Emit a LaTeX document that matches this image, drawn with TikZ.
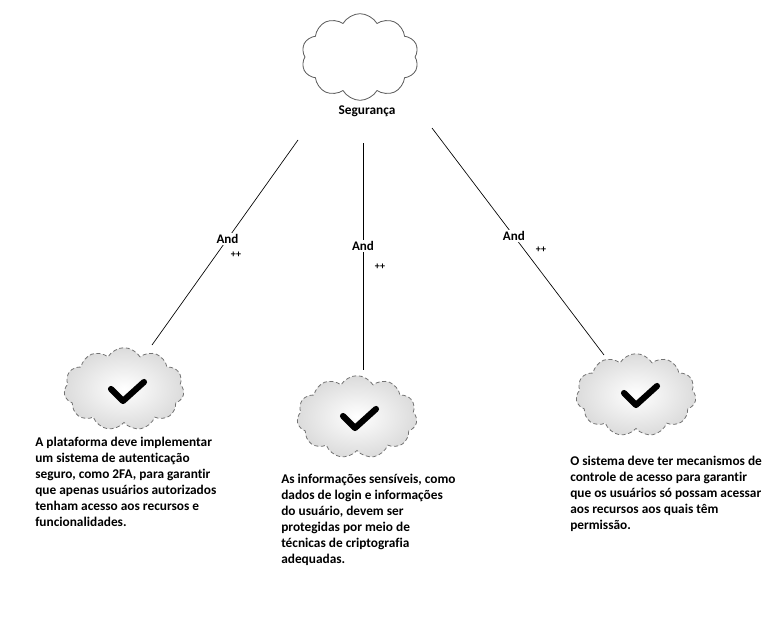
\documentclass[tikz,border=0pt]{standalone}
\usepackage{fontspec}
\setmainfont[Ligatures=NoCommon]{Carlito}
\usetikzlibrary{shapes.symbols}
\begin{document}
\begin{tikzpicture}[x=0.75pt,y=-0.75pt,
  topcloud/.style={cloud, cloud puffs=10, cloud puff arc=120, aspect=1.4, draw=black!65, line width=0.6pt, fill=white, minimum width=88pt, minimum height=65pt, inner sep=0pt},
  goalcloud/.style={cloud, cloud puffs=11, cloud puff arc=120, aspect=1.5, draw=black!55, line width=0.6pt, dash pattern=on 3pt off 2pt, inner color=white, outer color=black!14, minimum width=90pt, minimum height=62pt, inner sep=0pt},
  checkmk/.style={line width=4.6pt, line cap=round, line join=round, black},
  andlbl/.style={font=\bfseries\fontsize{9.8}{11}\selectfont, fill=white, inner sep=1pt},
  pluslbl/.style={font=\bfseries\fontsize{7.5}{9}\selectfont, inner sep=0pt},
  goaltext/.style={font=\bfseries\fontsize{10}{12}\selectfont, align=left, anchor=north west, inner sep=0pt},
  conn/.style={line width=0.5pt, black}
]
\useasboundingbox (0,0) rectangle (778,639);

% top softgoal
\node[topcloud] (top) at (360,57) {};
\node[font=\bfseries\fontsize{10}{12}\selectfont] (seg) at (367,111) {Segurança};

% goal clouds
\node[goalcloud] (g1) at (124,389) {};
\node[goalcloud] (g2) at (357,417) {};
\node[goalcloud] (g3) at (636,395) {};

% check marks
\draw[checkmk] (111,389) -- (123,401) -- (144,382);
\draw[checkmk] (343,416) -- (355,428) -- (376,409);
\draw[checkmk] (624,393) -- (636,405) -- (657,386);

% connectors
\coordinate (s1) at (298,140);
\coordinate (e1) at (152,345);
\coordinate (s2) at (363,143);
\coordinate (e2) at (363,370);
\coordinate (s3) at (432,128);
\coordinate (e3) at (604,355);
\draw[conn] (s1) -- node[pos=0.483, andlbl] (a1) {And} (e1);
\draw[conn] (s2) -- node[pos=0.454, andlbl] (a2) {And} (e2);
\draw[conn] (s3) -- node[pos=0.476, andlbl] (a3) {And} (e3);
\node[pluslbl] (p1) at (236,255) {++};
\node[pluslbl] (p2) at (380,267) {++};
\node[pluslbl] (p3) at (541,250) {++};

% texts
\node[goaltext] (t1) at (35,437) {A plataforma deve implementar\\um sistema de autenticação\\seguro, como 2FA, para garantir\\que apenas usuários autorizados\\tenham acesso aos recursos e\\funcionalidades.};
\node[goaltext] (t2) at (281,474) {As informações sensíveis, como\\dados de login e informações\\do usuário, devem ser\\protegidas por meio de\\técnicas de criptografia\\adequadas.};
\node[goaltext] (t3) at (570,456) {O sistema deve ter mecanismos de\\controle de acesso para garantir\\que os usuários só possam acessar\\aos recursos aos quais têm\\permissão.};
\end{tikzpicture}
\end{document}
